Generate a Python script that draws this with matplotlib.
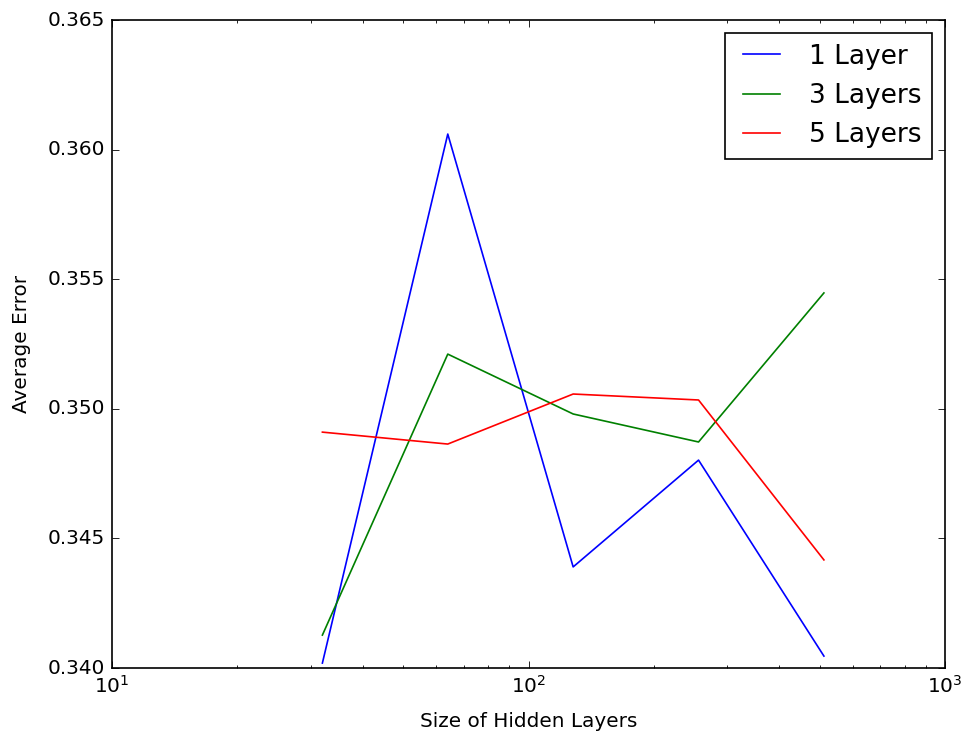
import numpy as np
import matplotlib
matplotlib.use('Agg')
from matplotlib import pyplot as plt

plt.style.use('classic')

# hidden layer sizes
sizes = [32, 64, 128, 256, 512]
# average error per network depth
err_1 = [0.34019, 0.36060, 0.34390, 0.34802, 0.34046]
err_3 = [0.34127, 0.35211, 0.34980, 0.34872, 0.35447]
err_5 = [0.34910, 0.34864, 0.35057, 0.35034, 0.34417]

fig = plt.figure(figsize=(967/120, 736/120), dpi=120)
fig.patch.set_facecolor('white')
ax = fig.add_axes([112/967, 1-668/736, (945-112)/967, (668-20)/736])

ax.plot(sizes, err_1, color='b', label='1 Layer')
ax.plot(sizes, err_3, color='g', label='3 Layers')
ax.plot(sizes, err_5, color='r', label='5 Layers')

ax.set_xscale('log')
ax.set_xlim(10, 1000)
ax.set_ylim(0.340, 0.365)
ax.set_xlabel('Size of Hidden Layers', labelpad=9)
ax.set_ylabel('Average Error', labelpad=10)
ax.legend(loc='upper right', fontsize=15.8, borderaxespad=0.5)

fig.savefig('out.png', dpi=120, facecolor='white')
